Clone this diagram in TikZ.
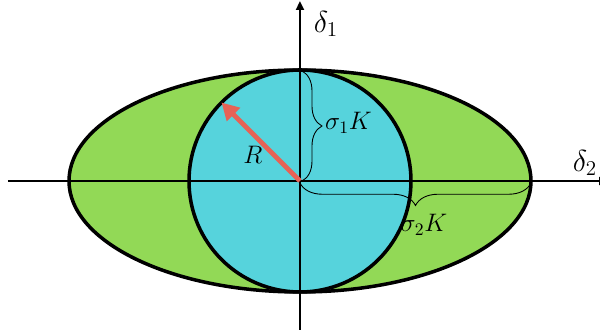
\documentclass[tikz,border=0pt]{standalone}
\usepackage{amsmath}
\usetikzlibrary{positioning, arrows.meta, decorations.pathreplacing, calc}
\definecolor{LeafGreen}{RGB}{146,217,86}
\definecolor{SkyCyan}{RGB}{86,211,220}
\definecolor{CoralRed}{RGB}{231,98,86}

\begin{document}
\begin{tikzpicture}[lbl/.style={font=\Large}]
            \useasboundingbox (-6,-3.08) rectangle (6,3.62);
            % Origin and radius end
            \coordinate (O) at (0,0);
            \coordinate (P) at (135:2.22);

            % Ellipse and circle
            \draw[line width=2pt, fill=LeafGreen] (O) ellipse [x radius=4.62, y radius=2.22];
            \draw[line width=2pt, fill=SkyCyan] (O) circle (2.22);

            % Axes
            \coordinate (xl) at (-5.84,0);
            \coordinate (xr) at (6.16,0);
            \coordinate (yb) at (0,-2.98);
            \coordinate (yt) at (0,3.6);
            \draw[line width=1.4pt, -{Triangle[length=0.18cm, width=0.16cm]}] (xl) -- (xr);
            \draw[line width=1.4pt, -{Triangle[length=0.18cm, width=0.16cm]}] (yb) -- (yt);
            \node[lbl, font=\LARGE] (d1) at (0.52,3.14) {$\delta_1$};
            \node[lbl, font=\LARGE] (d2) at (5.70,0.36) {$\delta_2$};

            % Radius
            \draw[CoralRed, line width=2.8pt, -{Triangle[length=0.34cm, width=0.36cm]}] (O) -- (P);
            \node[lbl] (R) at (-0.94,0.52) {$R$};

            % Braces
            \coordinate (b1s) at (0.04,2.2);
            \coordinate (b1e) at (0.04,0);
            \draw[line width=0.5pt, decorate, decoration={brace, amplitude=0.4cm}] (b1s) -- (b1e);
            \node[lbl, anchor=west] (s1) at (0.38,1.16) {$\sigma_1K$};
            \coordinate (b2s) at (4.62,-0.04);
            \coordinate (b2e) at (0,-0.04);
            \draw[line width=0.5pt, decorate, decoration={brace, amplitude=0.45cm}] (b2s) -- (b2e);
            \node[lbl] (s2) at (2.48,-0.88) {$\sigma_2K$};
        \end{tikzpicture}
\end{document}
